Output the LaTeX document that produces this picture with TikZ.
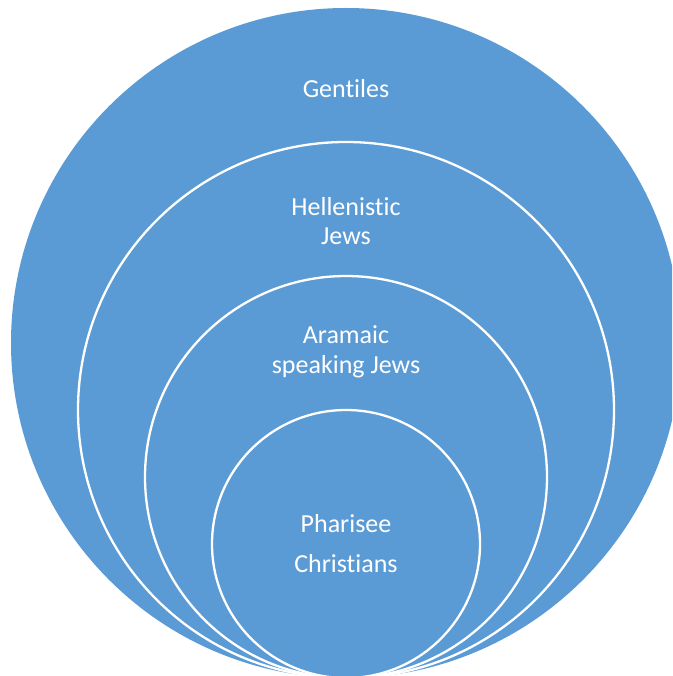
\documentclass[tikz,border=0pt]{standalone}
\usepackage{fontspec}
\setmainfont{Carlito}[Ligatures=NoCommon]
\definecolor{ringblue}{HTML}{5B9BD5}
\begin{document}
\begin{tikzpicture}[x=1pt,y=-1pt,
  ring/.style={circle, fill=ringblue, draw=white, line width=2.3pt, inner sep=0pt},
  outerring/.style={circle, fill=ringblue, draw=none, inner sep=0pt},
  lbl/.style={text=white, font=\fontsize{26}{30}\selectfont, anchor=base, inner sep=0pt}]
\clip (0,0) rectangle (672,676);
\fill[white] (0,0) rectangle (672,676);
\node[outerring, minimum size=670pt] (gent) at (346,343) {};
\node[ring, minimum size=536pt] (hell) at (346,410) {};
\node[ring, minimum size=402pt] (aram) at (346,477) {};
\node[ring, minimum size=268pt] (phar) at (346,544) {};
\node[lbl] (t1) at (346,98) {Gentiles};
\node[lbl] (t2) at (346,215) {Hellenistic};
\node[lbl] (t3) at (346,244) {Jews};
\node[lbl] (t4) at (346,343) {Aramaic};
\node[lbl] (t5) at (346,373) {speaking Jews};
\node[lbl] (t6) at (346,532) {Pharisee};
\node[lbl] (t7) at (346,572) {Christians};
\end{tikzpicture}
\end{document}
